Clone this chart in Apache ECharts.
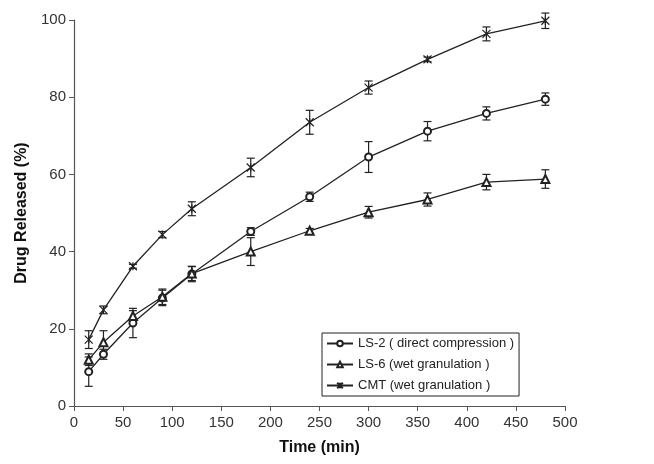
<!DOCTYPE html>
<html>
<head>
<meta charset="utf-8">
<script src="https://cdn.jsdelivr.net/npm/echarts@6/dist/echarts.min.js"></script>
<style>
  html, body { margin: 0; padding: 0; background: #fff; }
  #main { width: 654px; height: 464px; }
</style>
</head>
<body>
<div id="main"></div>
<script>
// release data
const times = [15, 30, 60, 90, 120, 180, 240, 300, 360, 420, 480];
const ls2 = [8.9, 13.4, 21.5, 28, 34.2, 45.2, 54.2, 64.5, 71.2, 75.8, 79.5];
const ls2Err = [3.8, 1.3, 3.8, 2, 2, 1, 1.2, 4, 2.5, 1.7, 1.6];
const ls6 = [12, 16.5, 23.3, 28.3, 34.3, 40, 45.4, 50.2, 53.5, 58, 58.8];
const ls6Err = [1.5, 3, 1.4, 2, 1.8, 3.6, 0.6, 1.5, 1.7, 2, 2.4];
const cmt = [17.2, 24.9, 36.2, 44.4, 51.1, 61.8, 73.5, 82.5, 89.8, 96.4, 99.8];
const cmtErr = [2.3, 1, 0.5, 0.8, 1.8, 2.4, 3.1, 1.7, 0.6, 1.8, 2];
const names = ['LS-2 ( direct compression )', 'LS-6 (wet granulation )', 'CMT (wet granulation )'];
const xTicks = [0, 50, 100, 150, 200, 250, 300, 350, 400, 450, 500];
const yTicks = [0, 20, 40, 60, 80, 100];

const ink = '#222';
const font = 'Arial, "Liberation Sans", sans-serif';
const asterisk = 'path://M0,0L10,10M10,0L0,10M5,0L5,10';

function pairs(vals) {
  return times.map((t, i) => [t, vals[i]]);
}

function errData(vals, errs) {
  return times.map((t, i) => [t, vals[i] - errs[i], vals[i] + errs[i]]);
}

function errSeries(vals, errs) {
  return {
    type: 'custom',
    silent: true,
    z: 3,
    data: errData(vals, errs),
    renderItem(params, api) {
      const lo = api.coord([api.value(0), api.value(1)]);
      const hi = api.coord([api.value(0), api.value(2)]);
      const w = 4;
      const style = { stroke: ink, lineWidth: 1.2 };
      return {
        type: 'group',
        children: [
          { type: 'line', shape: { x1: lo[0], y1: lo[1], x2: hi[0], y2: hi[1] }, style },
          { type: 'line', shape: { x1: lo[0] - w, y1: lo[1], x2: lo[0] + w, y2: lo[1] }, style },
          { type: 'line', shape: { x1: hi[0] - w, y1: hi[1], x2: hi[0] + w, y2: hi[1] }, style }
        ]
      };
    }
  };
}

function lineSeries(name, vals, symbol, size) {
  return {
    name: name,
    type: 'line',
    data: pairs(vals),
    symbol: symbol,
    symbolSize: size,
    showAllSymbol: true,
    z: 4,
    lineStyle: { color: ink, width: 1.3 },
    itemStyle: { color: ink, borderColor: ink, borderWidth: 1.2 }
  };
}

const myChart = echarts.init(document.getElementById('main'));
myChart.setOption({
  animation: false,
  backgroundColor: '#fff',
  grid: { left: 74, right: 89, top: 20, bottom: 58 },
  legend: {
    data: names,
    orient: 'vertical',
    left: 322,
    top: 333,
    padding: [4, 5, 4, 4],
    itemGap: 8,
    itemWidth: 26,
    itemHeight: 7,
    borderColor: ink,
    borderWidth: 1,
    backgroundColor: '#fff',
    textStyle: { fontFamily: font, fontSize: 13, color: '#222' }
  },
  xAxis: {
    type: 'value',
    min: xTicks[0],
    max: xTicks[xTicks.length - 1],
    interval: 50,
    name: 'Time (min)',
    nameLocation: 'middle',
    nameGap: 34,
    nameTextStyle: { fontFamily: font, fontSize: 16, fontWeight: 'bold', color: '#111' },
    axisLine: { lineStyle: { color: '#555', width: 1.2 } },
    axisTick: { show: true, length: 5, lineStyle: { color: '#555' } },
    axisLabel: { fontFamily: font, fontSize: 15, color: '#333', margin: 9 },
    splitLine: { show: false }
  },
  yAxis: {
    type: 'value',
    min: yTicks[0],
    max: yTicks[yTicks.length - 1],
    interval: 20,
    name: 'Drug Released (%)',
    nameLocation: 'middle',
    nameGap: 44,
    nameTextStyle: { fontFamily: font, fontSize: 16, fontWeight: 'bold', color: '#111' },
    axisLine: { show: true, lineStyle: { color: '#555', width: 1.2 } },
    axisTick: { show: true, length: 5, lineStyle: { color: '#555' } },
    axisLabel: { fontFamily: font, fontSize: 15, color: '#333', margin: 8 },
    splitLine: { show: false }
  },
  series: [
    errSeries(ls2, ls2Err),
    errSeries(ls6, ls6Err),
    errSeries(cmt, cmtErr),
    lineSeries(names[0], ls2, 'emptyCircle', 7),
    lineSeries(names[1], ls6, 'emptyTriangle', 8),
    lineSeries(names[2], cmt, asterisk, 8)
  ]
});
</script>
</body>
</html>
